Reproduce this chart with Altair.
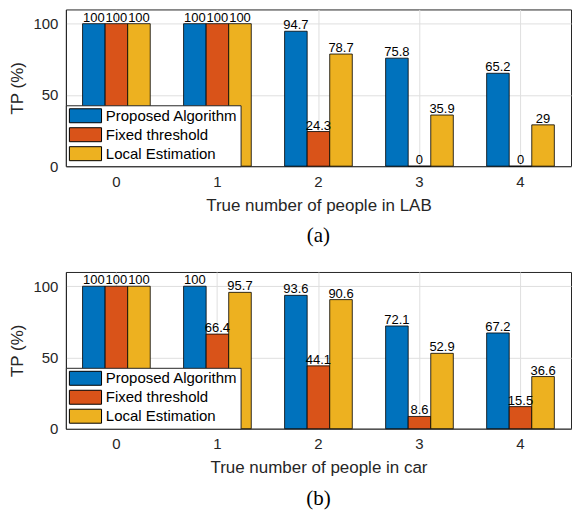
import altair as alt
import pandas as pd

categories = ["0", "1", "2", "3", "4"]
series = ["Proposed Algorithm", "Fixed threshold", "Local Estimation"]
colors = ["#0072BD", "#D95319", "#EDB120"]

lab_proposed = [100, 100, 94.7, 75.8, 65.2]
lab_fixed = [100, 100, 24.3, 0, 0]
lab_local = [100, 100, 78.7, 35.9, 29]

car_proposed = [100, 100, 93.6, 72.1, 67.2]
car_fixed = [100, 66.4, 44.1, 8.6, 15.5]
car_local = [100, 95.7, 90.6, 52.9, 36.6]

FONT = "Liberation Sans"
SERIF = "Liberation Serif"
DARK = "#262626"


def fmt(v):
    return f"{v:g}"


def make_df(vals_list):
    rows = []
    for s, vals in zip(series, vals_list):
        for c, v in zip(categories, vals):
            rows.append(dict(cat=c, series=s, value=v, label=fmt(v)))
    return pd.DataFrame(rows)


def panel(df, xtitle, caption):
    base = alt.Chart(df).encode(
        x=alt.X(
            "cat:N",
            sort=categories,
            scale=alt.Scale(paddingInner=0.33, paddingOuter=0.165),
            axis=alt.Axis(title=xtitle, labelAngle=0, grid=True, ticks=False,
                          labelPadding=8, titlePadding=8),
        ),
        xOffset=alt.XOffset("series:N", sort=series,
                            scale=alt.Scale(paddingInner=0, paddingOuter=0)),
    )
    bars = base.mark_bar(stroke="black", strokeWidth=0.8).encode(
        y=alt.Y(
            "value:Q",
            scale=alt.Scale(domain=[0, 110], nice=False),
            axis=alt.Axis(values=[0, 50, 100], title="TP (%)", ticks=False,
                          labelPadding=8, titlePadding=6),
        ),
        color=alt.Color(
            "series:N",
            sort=series,
            scale=alt.Scale(domain=series, range=colors),
            legend=alt.Legend(
                title=None,
                orient="bottom-left",
                offset=0,
                fillColor="white",
                strokeColor=DARK,
                padding=3,
                labelFontSize=15,
                labelFont=FONT,
                labelColor="black",
                symbolType="M-1,-1H3.6V1H-1Z",
                symbolSize=196,
                symbolStrokeColor="black",
                symbolStrokeWidth=1,
                symbolOpacity=1,
                rowPadding=0,
                labelOffset=22,
            ),
        ),
    )
    text = base.mark_text(baseline="bottom", dy=1, fontSize=13, font=FONT,
                          color="black").encode(
        y=alt.Y("value:Q"),
        text="label:N",
    )
    return alt.layer(bars, text).properties(
        width=506,
        height=157,
        title=alt.TitleParams(caption, orient="bottom", font=SERIF, fontSize=21,
                              fontWeight="normal", color="black", offset=12),
    )


pa = panel(make_df([lab_proposed, lab_fixed, lab_local]), "True number of people in LAB", "(a)")
pb = panel(make_df([car_proposed, car_fixed, car_local]), "True number of people in car", "(b)")

chart = alt.vconcat(pa, pb, spacing=24).resolve_scale(color="independent").resolve_legend(
    color="independent"
).configure_view(stroke=DARK, strokeWidth=1).configure_axis(
    domainColor=DARK,
    labelColor=DARK,
    titleColor=DARK,
    gridColor="#dfdfdf",
    labelFont=FONT,
    titleFont=FONT,
    labelFontSize=15,
    titleFontSize=17,
    titleFontWeight="normal",
).properties(padding=0)

chart.save("out.html", embed_options={"renderer": "svg", "actions": False})
